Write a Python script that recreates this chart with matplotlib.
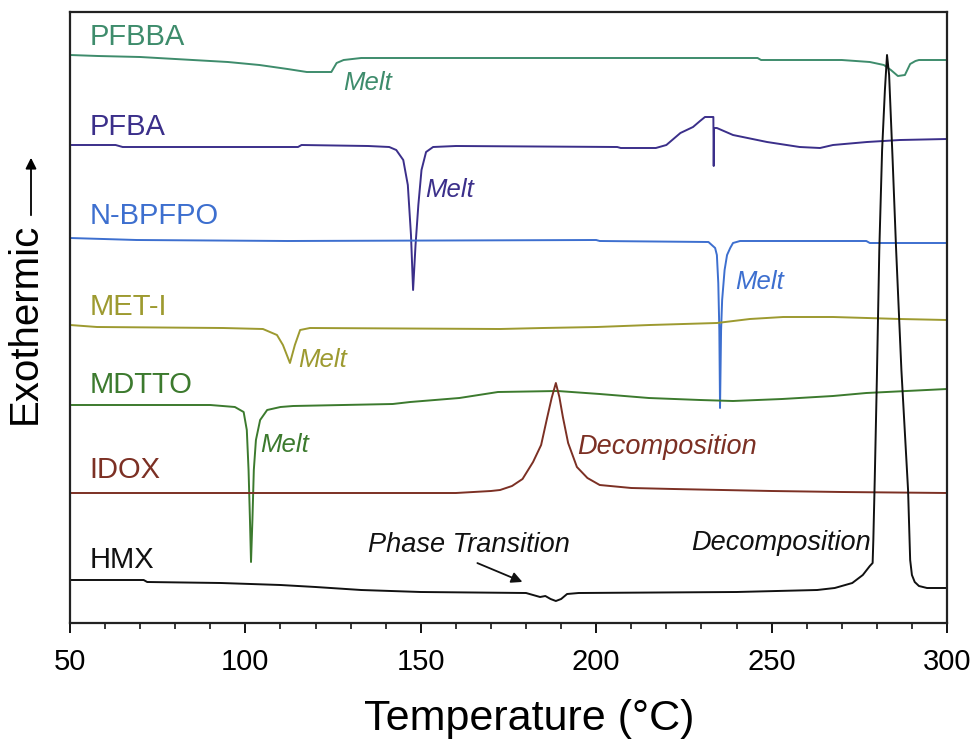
import matplotlib.pyplot as plt

plt.rcParams['font.family'] = ['Liberation Sans', 'DejaVu Sans']

# readings from the picture: temperature (C) and signal height (a.u., baseline offsets included)
pfbba_t = [50, 58, 70, 85, 95, 104, 112, 117.5, 124.5, 126, 128, 133, 246, 247, 270, 278, 282, 284, 286, 288, 289.5, 291, 292, 300]
pfbba_y = [568, 567, 566, 563, 561, 558, 554, 551, 551, 560, 563, 565, 565, 563, 563, 561, 558, 553, 547, 548, 559, 562, 563, 563]

pfba_t = [50, 63, 65, 115, 116, 135, 141, 143, 145, 146.3, 147.2, 147.8, 148.5, 149.3, 150.2, 151.5, 153.5, 160, 206, 207, 217,
          220, 224, 227.6, 229.6, 231, 233.4, 233.5, 233.6, 234.4, 239, 248.7, 258, 263.8, 267.5, 277.2, 286.6, 300]
pfba_y = [478, 478, 476, 476, 478, 477, 476, 473, 463, 438, 388, 333, 378, 418, 453, 471, 476, 477, 476, 475, 475,
          478, 490, 496, 502, 506, 506, 457, 495, 495, 488, 481, 476, 475, 478, 481, 483, 484]

nbpfpo_t = [50, 69, 112, 200, 201, 232, 233.9, 234.4, 234.8, 235.1, 235.3, 235.6, 235.9, 236.6, 237.3, 238.2, 239, 241, 277, 278, 300]
nbpfpo_y = [385, 383, 382, 383, 382, 381, 375, 368, 340, 293, 215, 293, 323, 353, 368, 375, 380, 382, 382, 380, 380]

meti_t = [50, 57.7, 93.6, 105, 109, 110.7, 112.7, 114.1, 115.6, 118.4, 172.6, 184.8, 200.2, 215.3, 234.4, 243.8, 253.3, 267.5, 277.2, 286.6, 300]
meti_y = [298, 296, 295, 294, 288, 278, 260, 278, 293, 295, 294, 295, 296, 298, 300, 304, 306, 306, 305, 304, 303]

mdtto_t = [50, 90, 97, 99.5, 100.4, 100.9, 101.3, 101.6, 102.0, 102.4, 103.0, 104.2, 106.2, 110, 113.6, 142, 147, 161, 172,
           189, 201, 215, 229.6, 239, 253, 267.5, 277, 300]
mdtto_y = [218, 218, 216, 211, 193, 153, 103, 61, 103, 153, 183, 203, 213, 216, 217, 219, 221, 225, 231,
           232, 229, 225, 223, 222, 224, 227, 230, 234]

idox_t = [50, 100, 160, 165, 170, 172.6, 176, 179, 182, 184.3, 186, 187.3, 188.5, 189.5, 190.5, 192, 194.5, 197.5, 201, 210,
          222, 250, 270, 300]
idox_y = [130, 130, 130, 131, 132, 133, 137, 144, 161, 178, 205, 225, 240, 226, 206, 180, 156, 145, 138, 135,
          134, 132, 131, 130]

hmx_t = [50, 71, 72, 93, 110, 120, 133, 150, 180, 182, 184, 185.5, 187, 188.5, 190, 191.7, 195, 240, 263, 268, 273, 276, 278,
         278.8, 279, 279.4, 280, 280.7, 281.5, 282.3, 282.9, 283.5, 284.5, 285.5, 287, 288.9, 289.5, 290, 290.8, 292, 294.3, 300]
hmx_y = [43, 43, 41, 40, 38, 36, 33, 31, 30, 28, 26, 27, 24, 22, 24, 29, 30, 31, 33, 35, 40, 48, 57,
         60, 83, 143, 243, 373, 473, 533, 568, 548, 463, 373, 253, 133, 63, 48, 41, 37, 35, 35]

names = ['PFBBA', 'PFBA', 'N-BPFPO', 'MET-I', 'MDTTO', 'IDOX', 'HMX']
colors = ['#3e8c6c', '#3b2f8a', '#3d6fcf', '#9d9a30', '#3c7a2e', '#7c3024', '#111111']
label_y = [586, 496, 407, 316, 238, 153, 63]
curves = [(pfbba_t, pfbba_y), (pfba_t, pfba_y), (nbpfpo_t, nbpfpo_y), (meti_t, meti_y),
          (mdtto_t, mdtto_y), (idox_t, idox_y), (hmx_t, hmx_y)]

# event annotations: text, x, y, colour index
events = [('Melt', 127.8, 540, 0), ('Melt', 151.2, 433, 1), ('Melt', 239.6, 341, 2),
          ('Melt', 115.0, 263, 3), ('Melt', 104.2, 178, 4), ('Decomposition', 194.5, 176, 5),
          ('Decomposition', 227.0, 80, 6), ('Phase Transition', 135.0, 78, 6)]

fig = plt.figure(figsize=(9.74, 7.42), dpi=100)
ax = fig.add_axes([70 / 974, 1 - 623 / 742, 877 / 974, 611 / 742])

for (t, y), c in zip(curves, colors):
    ax.plot(t, y, color=c, lw=1.4)

for name, c, ly in zip(names, colors, label_y):
    ax.text(55.5, ly, name, color=c, fontsize=21, ha='left', va='center')

for txt, x, y, ci in events:
    ax.text(x, y, txt, color=colors[ci], fontsize=18.5 if txt == 'Melt' else 19.5,
            style='italic', ha='left', va='center')

ax.annotate('', xy=(179.7, 40), xytext=(165.4, 61),
            arrowprops=dict(arrowstyle='-|>', color='#111111', lw=1.3, mutation_scale=16))

ax.set_xlim(50, 300)
ax.set_ylim(0, 611)
ax.set_yticks([])
ax.set_xticks([50, 100, 150, 200, 250, 300])
ax.set_xticks(range(50, 301, 10), minor=True)
ax.tick_params(axis='x', which='major', length=7, width=1.3, labelsize=21, pad=11)
ax.tick_params(axis='x', which='minor', length=4, width=1.1)
for s in ax.spines.values():
    s.set_linewidth(1.6)
    s.set_color('#222222')

ax.set_xlabel('Temperature (°C)', fontsize=31)
ax.xaxis.set_label_coords(0.524, -0.124)

fig.text(25 / 974, 1 - 323 / 742, 'Exothermic', rotation=90, fontsize=29, ha='center', va='center')
fig.add_artist(plt.Annotation('', xy=(31 / 974, 1 - 155 / 742), xytext=(31 / 974, 1 - 218 / 742),
                              xycoords='figure fraction', textcoords='figure fraction',
                              arrowprops=dict(arrowstyle='-|>', color='black', lw=1.3, mutation_scale=16)))

fig.savefig('out.png', dpi=100)
